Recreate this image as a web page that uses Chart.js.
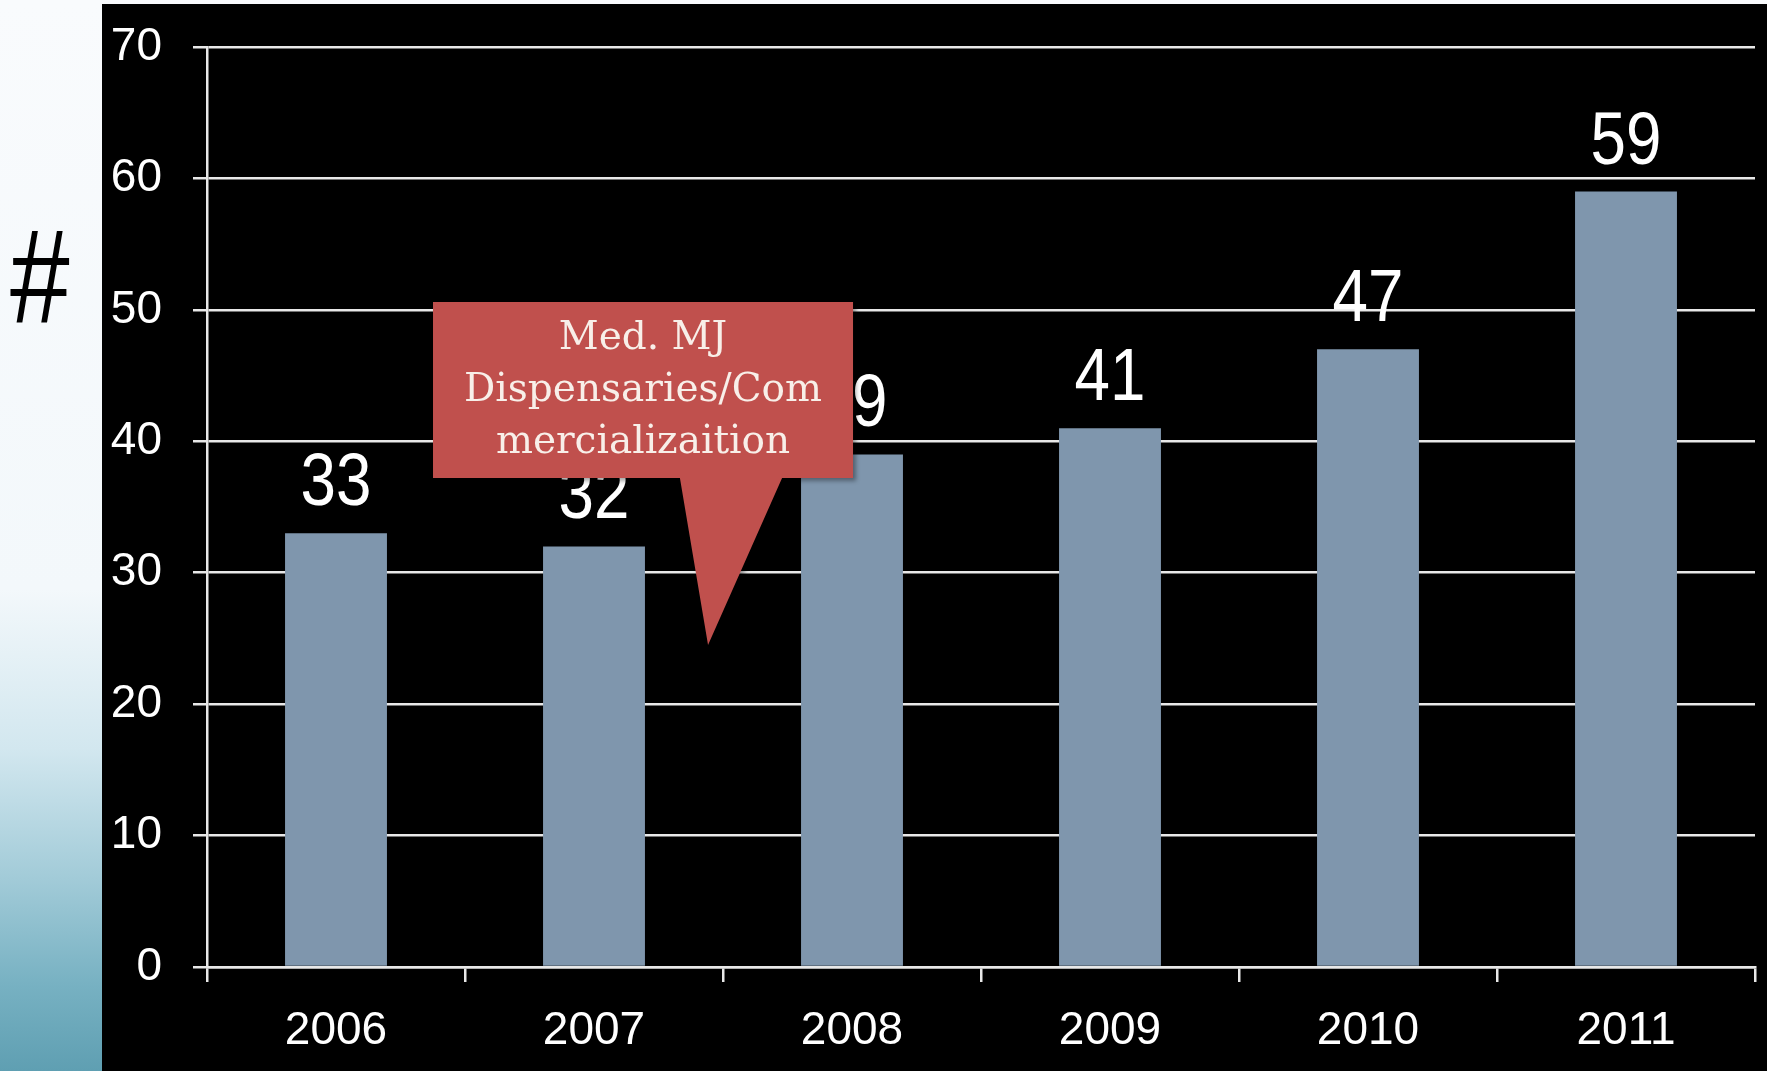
<!DOCTYPE html>
<html>
<head>
<meta charset="utf-8">
<script src="https://cdn.jsdelivr.net/npm/chart.js@4/dist/chart.umd.min.js"></script>
<style>
  html, body { margin: 0; padding: 0; }
  body {
    width: 1767px; height: 1071px; overflow: hidden; position: relative;
    background: linear-gradient(to bottom, #f9fbfd 0%, #f3f8fb 55%, #d2e7ef 70%, #a2cbd8 82%, #77b1c2 92%, #5f9fb2 100%);
  }
  #panel { position: absolute; left: 102px; top: 4px; width: 1665px; height: 1067px; background: #000; }
  #ytitle { position: absolute; left: 10px; top: 210px; font-family: 'Liberation Sans', Arial, sans-serif; font-size: 134px; color: #000; line-height: 1; transform: scaleX(0.8); transform-origin: left top; }
</style>
</head>
<body>
<div id="ytitle">#</div>
<div id="panel"><canvas id="c" width="1665" height="1067"></canvas></div>
<script>
const categories = ['2006', '2007', '2008', '2009', '2010', '2011'];
const values = [33, 32, 39, 41, 47, 59];
const yTicks = [0, 10, 20, 30, 40, 50, 60, 70];
const calloutLines = ['Med. MJ', 'Dispensaries/Com', 'mercializaition'];

const SANS = "'Liberation Sans Narrow', 'Arial Narrow', 'Liberation Sans', Arial, sans-serif";
const LINE = 'rgba(232,232,232,1)';

const labelsAndCallout = {
  id: 'labelsAndCallout',
  afterDatasetsDraw(chart) {
    const ctx = chart.ctx;
    const meta = chart.getDatasetMeta(0);
    meta.data.forEach((bar, i) => {
      ctx.save();
      ctx.translate(bar.x, bar.y - 28);
      ctx.scale(0.85, 1);
      ctx.fillStyle = '#ffffff';
      ctx.font = '75px ' + SANS;
      ctx.textAlign = 'center';
      ctx.textBaseline = 'alphabetic';
      ctx.fillText(String(values[i]), 0, 0);
      ctx.restore();
    });

    // callout anchored to scale values
    const xs = chart.scales.x, ys = chart.scales.y;
    const left = xs.getPixelForValue(0.376), right = xs.getPixelForValue(2.004);
    const top = ys.getPixelForValue(50.6), bottom = ys.getPixelForValue(37.2);
    const tipX = xs.getPixelForValue(1.442), tipY = ys.getPixelForValue(24.5);
    const baseL = xs.getPixelForValue(1.333), baseR = xs.getPixelForValue(1.729);
    ctx.save();
    ctx.shadowColor = 'rgba(0,0,0,0.35)';
    ctx.shadowOffsetX = 3; ctx.shadowOffsetY = 3; ctx.shadowBlur = 4;
    ctx.fillStyle = '#c0504d';
    ctx.beginPath();
    ctx.moveTo(left, top);
    ctx.lineTo(right, top);
    ctx.lineTo(right, bottom);
    ctx.lineTo(baseR, bottom);
    ctx.lineTo(tipX, tipY);
    ctx.lineTo(baseL, bottom);
    ctx.lineTo(left, bottom);
    ctx.closePath();
    ctx.fill();
    ctx.restore();
    ctx.save();
    ctx.fillStyle = '#f8efe9';
    ctx.font = '39px "DejaVu Serif", "Liberation Serif", serif';
    ctx.textAlign = 'center';
    ctx.textBaseline = 'middle';
    const cx = (left + right) / 2;
    const firstY = top + 37;
    calloutLines.forEach((t, i) => ctx.fillText(t, cx, firstY + i * 52));
    ctx.restore();
  }
};

new Chart(document.getElementById('c'), {
  type: 'bar',
  data: {
    labels: categories,
    datasets: [{
      data: values,
      backgroundColor: '#7f96ad',
      borderWidth: 0,
      categoryPercentage: 1,
      barPercentage: 0.395
    }]
  },
  options: {
    responsive: false,
    animation: false,
    events: [],
    layout: { padding: { top: 43, right: 12, left: 0, bottom: 0 } },
    plugins: { legend: { display: false }, tooltip: { enabled: false } },
    scales: {
      x: {
        grid: { display: true, drawOnChartArea: false, drawTicks: true, tickLength: 15, color: LINE, lineWidth: 2.5, offset: true },
        border: { display: true, color: LINE, width: 2.5 },
        ticks: { color: '#ffffff', font: { family: SANS, size: 46 }, padding: 22, maxRotation: 0 },
        afterFit(s) { s.height = 104; s.paddingLeft = 0; s.paddingRight = 0; }
      },
      y: {
        min: 0, max: 70,
        afterBuildTicks(s) { s.ticks = yTicks.map(v => ({ value: v })); },
        grid: { color: LINE, lineWidth: 2.5, drawTicks: true, tickLength: 14 },
        border: { display: true, color: LINE, width: 2.5 },
        ticks: { color: '#ffffff', font: { family: SANS, size: 46 }, padding: 31 },
        afterFit(s) { s.width = 105; s.paddingTop = 0; s.paddingBottom = 0; }
      }
    }
  },
  plugins: [labelsAndCallout]
});
</script>
</body>
</html>
